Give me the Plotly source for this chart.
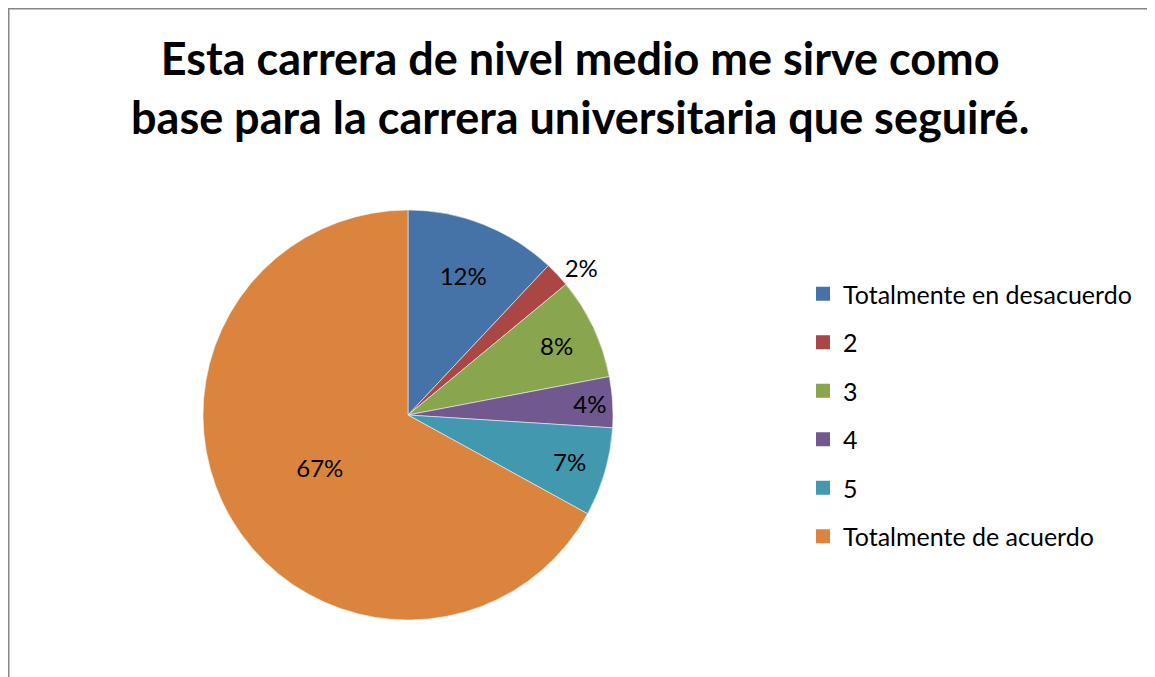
import plotly.graph_objects as go

# survey answers (percent)
labels = ['Totalmente en desacuerdo', '2', '3', '4', '5', 'Totalmente de acuerdo']
values = [12, 2, 8, 4, 7, 67]
colors = ['#4572A7', '#AA4643', '#89A54E', '#71588F', '#4198AF', '#DB843D']
text_pos = ['inside', 'outside', 'inside', 'inside', 'inside', 'inside']

title = 'Esta carrera de nivel medio me sirve como<br>base para la carrera universitaria que seguiré.'
font_name = 'Lato, Open Sans, sans-serif'

# page has an 8px body margin, so the figure is a bit smaller
W, H = 1147, 669

fig = go.Figure()

fig.add_trace(go.Pie(
    labels=labels,
    values=values,
    sort=False,
    direction='clockwise',
    rotation=0,
    marker=dict(colors=colors, line=dict(color='#f2f2f2', width=0.6)),
    texttemplate='%{percent:.0%}',
    textposition=text_pos,
    insidetextorientation='horizontal',
    textfont=dict(size=24, color='black', family=font_name),
    domain=dict(x=[195 / W, 605 / W], y=[57 / H, 467 / H]),
    showlegend=False,
    hoverinfo='label+percent',
))

# legend entries as separate groups so the spacing can be set
for i, (lab, col) in enumerate(zip(labels, colors)):
    fig.add_trace(go.Scatter(
        x=[None], y=[None],
        mode='markers',
        marker=dict(symbol='square', size=14, color=col),
        name=lab,
        legendgroup='g%d' % i,
        showlegend=True,
    ))

fig.update_layout(
    width=W,
    height=H,
    margin=dict(l=0, r=0, t=0, b=0),
    paper_bgcolor='white',
    plot_bgcolor='white',
    font=dict(family=font_name, color='black'),
    xaxis=dict(visible=False),
    yaxis=dict(visible=False),
    annotations=[dict(
        text='<b>' + title + '</b>',
        xref='paper', yref='paper',
        x=0.499, xanchor='center',
        y=1 - 21 / H, yanchor='top',
        showarrow=False,
        align='center',
        font=dict(size=45, family=font_name, color='black'),
    )],
    legend=dict(
        x=795 / W,
        xanchor='left',
        y=1 - 263 / H,
        yanchor='top',
        font=dict(size=25, family=font_name, color='black'),
        tracegroupgap=13,
        traceorder='grouped',
        bgcolor='rgba(0,0,0,0)',
    ),
    shapes=[dict(
        type='rect', xref='paper', yref='paper',
        x0=0.5 / W, x1=1.05, y0=-0.05, y1=1 - 0.5 / H,
        line=dict(color='#868686', width=2),
    )],
)

fig.write_html('out.html')
